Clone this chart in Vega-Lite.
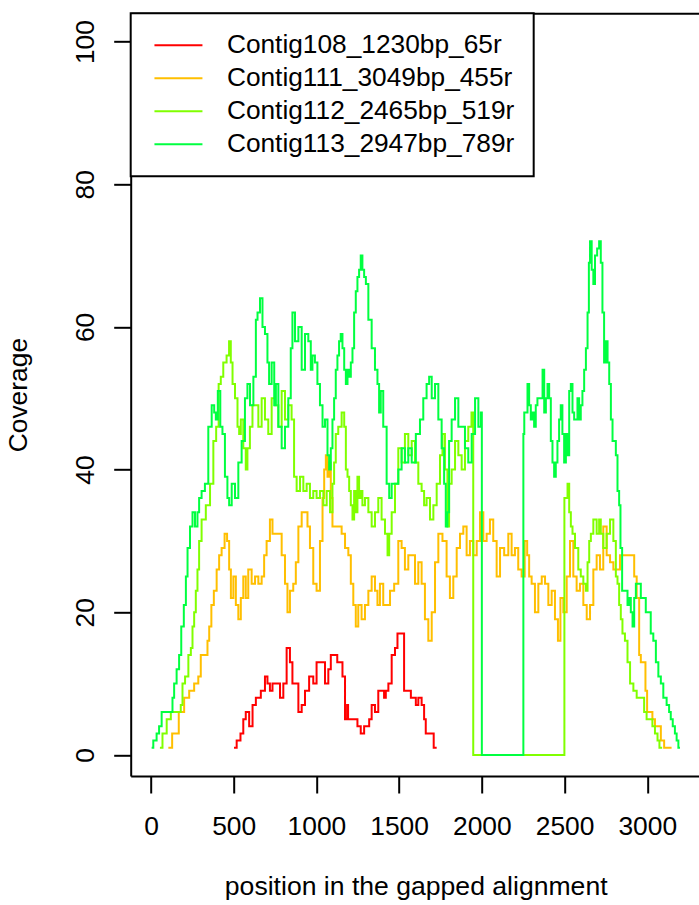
{
  "$schema": "https://vega.github.io/schema/vega-lite/v6.json",
  "width": 568,
  "height": 762.7,
  "autosize": {"type": "none"},
  "padding": {"left": 130.7, "top": 13.3, "right": 0, "bottom": 129},
  "background": "white",
  "datasets": {
    "cov": [
      {"contig":"Contig108_1230bp_65r","pos":502,"cov":1},{"contig":"Contig108_1230bp_65r","pos":534,"cov":2},{"contig":"Contig108_1230bp_65r","pos":548,"cov":3},{"contig":"Contig108_1230bp_65r","pos":568,"cov":5},{"contig":"Contig108_1230bp_65r","pos":578,"cov":6},{"contig":"Contig108_1230bp_65r","pos":609,"cov":4},{"contig":"Contig108_1230bp_65r","pos":619,"cov":7},{"contig":"Contig108_1230bp_65r","pos":649,"cov":8},{"contig":"Contig108_1230bp_65r","pos":679,"cov":9},{"contig":"Contig108_1230bp_65r","pos":699,"cov":11},{"contig":"Contig108_1230bp_65r","pos":709,"cov":10},{"contig":"Contig108_1230bp_65r","pos":729,"cov":9},{"contig":"Contig108_1230bp_65r","pos":740,"cov":10},{"contig":"Contig108_1230bp_65r","pos":770,"cov":10},{"contig":"Contig108_1230bp_65r","pos":790,"cov":8},{"contig":"Contig108_1230bp_65r","pos":810,"cov":10},{"contig":"Contig108_1230bp_65r","pos":830,"cov":15},{"contig":"Contig108_1230bp_65r","pos":850,"cov":13},{"contig":"Contig108_1230bp_65r","pos":860,"cov":10},{"contig":"Contig108_1230bp_65r","pos":881,"cov":10},{"contig":"Contig108_1230bp_65r","pos":901,"cov":6},{"contig":"Contig108_1230bp_65r","pos":921,"cov":7},{"contig":"Contig108_1230bp_65r","pos":941,"cov":9},{"contig":"Contig108_1230bp_65r","pos":971,"cov":11},{"contig":"Contig108_1230bp_65r","pos":991,"cov":10},{"contig":"Contig108_1230bp_65r","pos":1011,"cov":13},{"contig":"Contig108_1230bp_65r","pos":1042,"cov":13},{"contig":"Contig108_1230bp_65r","pos":1062,"cov":10},{"contig":"Contig108_1230bp_65r","pos":1082,"cov":12},{"contig":"Contig108_1230bp_65r","pos":1092,"cov":14},{"contig":"Contig108_1230bp_65r","pos":1122,"cov":14},{"contig":"Contig108_1230bp_65r","pos":1130,"cov":13},{"contig":"Contig108_1230bp_65r","pos":1152,"cov":13},{"contig":"Contig108_1230bp_65r","pos":1163,"cov":11},{"contig":"Contig108_1230bp_65r","pos":1183,"cov":5},{"contig":"Contig108_1230bp_65r","pos":1188,"cov":7},{"contig":"Contig108_1230bp_65r","pos":1195,"cov":5},{"contig":"Contig108_1230bp_65r","pos":1243,"cov":5},{"contig":"Contig108_1230bp_65r","pos":1253,"cov":4},{"contig":"Contig108_1230bp_65r","pos":1283,"cov":3},{"contig":"Contig108_1230bp_65r","pos":1294,"cov":4},{"contig":"Contig108_1230bp_65r","pos":1314,"cov":4},{"contig":"Contig108_1230bp_65r","pos":1324,"cov":5},{"contig":"Contig108_1230bp_65r","pos":1344,"cov":7},{"contig":"Contig108_1230bp_65r","pos":1364,"cov":6},{"contig":"Contig108_1230bp_65r","pos":1384,"cov":9},{"contig":"Contig108_1230bp_65r","pos":1404,"cov":9},{"contig":"Contig108_1230bp_65r","pos":1414,"cov":8},{"contig":"Contig108_1230bp_65r","pos":1425,"cov":9},{"contig":"Contig108_1230bp_65r","pos":1445,"cov":10},{"contig":"Contig108_1230bp_65r","pos":1465,"cov":14},{"contig":"Contig108_1230bp_65r","pos":1485,"cov":15},{"contig":"Contig108_1230bp_65r","pos":1495,"cov":17},{"contig":"Contig108_1230bp_65r","pos":1525,"cov":17},{"contig":"Contig108_1230bp_65r","pos":1535,"cov":9},{"contig":"Contig108_1230bp_65r","pos":1566,"cov":9},{"contig":"Contig108_1230bp_65r","pos":1576,"cov":8},{"contig":"Contig108_1230bp_65r","pos":1596,"cov":8},{"contig":"Contig108_1230bp_65r","pos":1606,"cov":7},{"contig":"Contig108_1230bp_65r","pos":1626,"cov":8},{"contig":"Contig108_1230bp_65r","pos":1646,"cov":7},{"contig":"Contig108_1230bp_65r","pos":1656,"cov":5},{"contig":"Contig108_1230bp_65r","pos":1666,"cov":3},{"contig":"Contig108_1230bp_65r","pos":1707,"cov":3},{"contig":"Contig108_1230bp_65r","pos":1711,"cov":1},{"contig":"Contig108_1230bp_65r","pos":1727,"cov":1},

      {"contig":"Contig111_3049bp_455r","pos":105,"cov":1},{"contig":"Contig111_3049bp_455r","pos":151,"cov":3},{"contig":"Contig111_3049bp_455r","pos":185,"cov":6},{"contig":"Contig111_3049bp_455r","pos":216,"cov":8},{"contig":"Contig111_3049bp_455r","pos":246,"cov":9},{"contig":"Contig111_3049bp_455r","pos":276,"cov":10},{"contig":"Contig111_3049bp_455r","pos":296,"cov":11},{"contig":"Contig111_3049bp_455r","pos":306,"cov":14},{"contig":"Contig111_3049bp_455r","pos":336,"cov":14},{"contig":"Contig111_3049bp_455r","pos":347,"cov":16},{"contig":"Contig111_3049bp_455r","pos":357,"cov":18},{"contig":"Contig111_3049bp_455r","pos":373,"cov":21},{"contig":"Contig111_3049bp_455r","pos":387,"cov":23},{"contig":"Contig111_3049bp_455r","pos":407,"cov":26},{"contig":"Contig111_3049bp_455r","pos":417,"cov":28},{"contig":"Contig111_3049bp_455r","pos":437,"cov":29},{"contig":"Contig111_3049bp_455r","pos":453,"cov":31},{"contig":"Contig111_3049bp_455r","pos":467,"cov":30},{"contig":"Contig111_3049bp_455r","pos":478,"cov":26},{"contig":"Contig111_3049bp_455r","pos":488,"cov":22},{"contig":"Contig111_3049bp_455r","pos":508,"cov":25},{"contig":"Contig111_3049bp_455r","pos":518,"cov":21},{"contig":"Contig111_3049bp_455r","pos":538,"cov":19},{"contig":"Contig111_3049bp_455r","pos":548,"cov":22},{"contig":"Contig111_3049bp_455r","pos":568,"cov":25},{"contig":"Contig111_3049bp_455r","pos":578,"cov":22},{"contig":"Contig111_3049bp_455r","pos":598,"cov":26},{"contig":"Contig111_3049bp_455r","pos":619,"cov":24},{"contig":"Contig111_3049bp_455r","pos":639,"cov":25},{"contig":"Contig111_3049bp_455r","pos":659,"cov":24},{"contig":"Contig111_3049bp_455r","pos":679,"cov":25},{"contig":"Contig111_3049bp_455r","pos":689,"cov":28},{"contig":"Contig111_3049bp_455r","pos":709,"cov":30},{"contig":"Contig111_3049bp_455r","pos":729,"cov":33},{"contig":"Contig111_3049bp_455r","pos":740,"cov":31},{"contig":"Contig111_3049bp_455r","pos":780,"cov":31},{"contig":"Contig111_3049bp_455r","pos":800,"cov":28},{"contig":"Contig111_3049bp_455r","pos":820,"cov":24},{"contig":"Contig111_3049bp_455r","pos":830,"cov":20},{"contig":"Contig111_3049bp_455r","pos":850,"cov":23},{"contig":"Contig111_3049bp_455r","pos":870,"cov":24},{"contig":"Contig111_3049bp_455r","pos":881,"cov":27},{"contig":"Contig111_3049bp_455r","pos":901,"cov":32},{"contig":"Contig111_3049bp_455r","pos":921,"cov":34},{"contig":"Contig111_3049bp_455r","pos":941,"cov":34},{"contig":"Contig111_3049bp_455r","pos":951,"cov":32},{"contig":"Contig111_3049bp_455r","pos":971,"cov":29},{"contig":"Contig111_3049bp_455r","pos":991,"cov":24},{"contig":"Contig111_3049bp_455r","pos":1011,"cov":23},{"contig":"Contig111_3049bp_455r","pos":1032,"cov":30},{"contig":"Contig111_3049bp_455r","pos":1042,"cov":36},{"contig":"Contig111_3049bp_455r","pos":1052,"cov":40},{"contig":"Contig111_3049bp_455r","pos":1062,"cov":42},{"contig":"Contig111_3049bp_455r","pos":1072,"cov":39},{"contig":"Contig111_3049bp_455r","pos":1082,"cov":41},{"contig":"Contig111_3049bp_455r","pos":1092,"cov":36},{"contig":"Contig111_3049bp_455r","pos":1102,"cov":32},{"contig":"Contig111_3049bp_455r","pos":1142,"cov":32},{"contig":"Contig111_3049bp_455r","pos":1163,"cov":31},{"contig":"Contig111_3049bp_455r","pos":1183,"cov":29},{"contig":"Contig111_3049bp_455r","pos":1203,"cov":28},{"contig":"Contig111_3049bp_455r","pos":1213,"cov":24},{"contig":"Contig111_3049bp_455r","pos":1233,"cov":21},{"contig":"Contig111_3049bp_455r","pos":1243,"cov":18},{"contig":"Contig111_3049bp_455r","pos":1263,"cov":21},{"contig":"Contig111_3049bp_455r","pos":1283,"cov":19},{"contig":"Contig111_3049bp_455r","pos":1304,"cov":21},{"contig":"Contig111_3049bp_455r","pos":1324,"cov":23},{"contig":"Contig111_3049bp_455r","pos":1344,"cov":25},{"contig":"Contig111_3049bp_455r","pos":1364,"cov":23},{"contig":"Contig111_3049bp_455r","pos":1374,"cov":21},{"contig":"Contig111_3049bp_455r","pos":1394,"cov":24},{"contig":"Contig111_3049bp_455r","pos":1414,"cov":21},{"contig":"Contig111_3049bp_455r","pos":1435,"cov":21},{"contig":"Contig111_3049bp_455r","pos":1455,"cov":23},{"contig":"Contig111_3049bp_455r","pos":1485,"cov":24},{"contig":"Contig111_3049bp_455r","pos":1505,"cov":30},{"contig":"Contig111_3049bp_455r","pos":1525,"cov":29},{"contig":"Contig111_3049bp_455r","pos":1545,"cov":26},{"contig":"Contig111_3049bp_455r","pos":1566,"cov":28},{"contig":"Contig111_3049bp_455r","pos":1586,"cov":28},{"contig":"Contig111_3049bp_455r","pos":1606,"cov":24},{"contig":"Contig111_3049bp_455r","pos":1626,"cov":27},{"contig":"Contig111_3049bp_455r","pos":1646,"cov":24},{"contig":"Contig111_3049bp_455r","pos":1666,"cov":19},{"contig":"Contig111_3049bp_455r","pos":1687,"cov":16},{"contig":"Contig111_3049bp_455r","pos":1707,"cov":20},{"contig":"Contig111_3049bp_455r","pos":1727,"cov":27},{"contig":"Contig111_3049bp_455r","pos":1747,"cov":31},{"contig":"Contig111_3049bp_455r","pos":1777,"cov":30},{"contig":"Contig111_3049bp_455r","pos":1797,"cov":25},{"contig":"Contig111_3049bp_455r","pos":1817,"cov":22},{"contig":"Contig111_3049bp_455r","pos":1838,"cov":25},{"contig":"Contig111_3049bp_455r","pos":1858,"cov":29},{"contig":"Contig111_3049bp_455r","pos":1878,"cov":31},{"contig":"Contig111_3049bp_455r","pos":1898,"cov":32},{"contig":"Contig111_3049bp_455r","pos":1918,"cov":28},{"contig":"Contig111_3049bp_455r","pos":1938,"cov":30},{"contig":"Contig111_3049bp_455r","pos":1959,"cov":28},{"contig":"Contig111_3049bp_455r","pos":1979,"cov":30},{"contig":"Contig111_3049bp_455r","pos":1999,"cov":34},{"contig":"Contig111_3049bp_455r","pos":2019,"cov":30},{"contig":"Contig111_3049bp_455r","pos":2039,"cov":31},{"contig":"Contig111_3049bp_455r","pos":2059,"cov":33},{"contig":"Contig111_3049bp_455r","pos":2079,"cov":30},{"contig":"Contig111_3049bp_455r","pos":2100,"cov":25},{"contig":"Contig111_3049bp_455r","pos":2120,"cov":29},{"contig":"Contig111_3049bp_455r","pos":2150,"cov":28},{"contig":"Contig111_3049bp_455r","pos":2170,"cov":31},{"contig":"Contig111_3049bp_455r","pos":2190,"cov":28},{"contig":"Contig111_3049bp_455r","pos":2210,"cov":29},{"contig":"Contig111_3049bp_455r","pos":2230,"cov":26},{"contig":"Contig111_3049bp_455r","pos":2251,"cov":25},{"contig":"Contig111_3049bp_455r","pos":2267,"cov":30},{"contig":"Contig111_3049bp_455r","pos":2281,"cov":28},{"contig":"Contig111_3049bp_455r","pos":2291,"cov":25},{"contig":"Contig111_3049bp_455r","pos":2311,"cov":24},{"contig":"Contig111_3049bp_455r","pos":2331,"cov":20},{"contig":"Contig111_3049bp_455r","pos":2352,"cov":24},{"contig":"Contig111_3049bp_455r","pos":2372,"cov":25},{"contig":"Contig111_3049bp_455r","pos":2392,"cov":24},{"contig":"Contig111_3049bp_455r","pos":2412,"cov":21},{"contig":"Contig111_3049bp_455r","pos":2432,"cov":23},{"contig":"Contig111_3049bp_455r","pos":2452,"cov":19},{"contig":"Contig111_3049bp_455r","pos":2468,"cov":16},{"contig":"Contig111_3049bp_455r","pos":2482,"cov":22},{"contig":"Contig111_3049bp_455r","pos":2503,"cov":20},{"contig":"Contig111_3049bp_455r","pos":2523,"cov":25},{"contig":"Contig111_3049bp_455r","pos":2543,"cov":30},{"contig":"Contig111_3049bp_455r","pos":2563,"cov":25},{"contig":"Contig111_3049bp_455r","pos":2583,"cov":23},{"contig":"Contig111_3049bp_455r","pos":2603,"cov":24},{"contig":"Contig111_3049bp_455r","pos":2624,"cov":21},{"contig":"Contig111_3049bp_455r","pos":2644,"cov":19},{"contig":"Contig111_3049bp_455r","pos":2664,"cov":21},{"contig":"Contig111_3049bp_455r","pos":2684,"cov":26},{"contig":"Contig111_3049bp_455r","pos":2704,"cov":28},{"contig":"Contig111_3049bp_455r","pos":2724,"cov":26},{"contig":"Contig111_3049bp_455r","pos":2744,"cov":32},{"contig":"Contig111_3049bp_455r","pos":2765,"cov":28},{"contig":"Contig111_3049bp_455r","pos":2785,"cov":27},{"contig":"Contig111_3049bp_455r","pos":2805,"cov":26},{"contig":"Contig111_3049bp_455r","pos":2825,"cov":26},{"contig":"Contig111_3049bp_455r","pos":2845,"cov":28},{"contig":"Contig111_3049bp_455r","pos":2865,"cov":28},{"contig":"Contig111_3049bp_455r","pos":2916,"cov":28},{"contig":"Contig111_3049bp_455r","pos":2926,"cov":25},{"contig":"Contig111_3049bp_455r","pos":2946,"cov":22},{"contig":"Contig111_3049bp_455r","pos":2956,"cov":14},{"contig":"Contig111_3049bp_455r","pos":2966,"cov":13},{"contig":"Contig111_3049bp_455r","pos":2986,"cov":13},{"contig":"Contig111_3049bp_455r","pos":2992,"cov":9},{"contig":"Contig111_3049bp_455r","pos":3006,"cov":6},{"contig":"Contig111_3049bp_455r","pos":3026,"cov":6},{"contig":"Contig111_3049bp_455r","pos":3036,"cov":5},{"contig":"Contig111_3049bp_455r","pos":3057,"cov":4},{"contig":"Contig111_3049bp_455r","pos":3077,"cov":4},{"contig":"Contig111_3049bp_455r","pos":3087,"cov":2},{"contig":"Contig111_3049bp_455r","pos":3117,"cov":1},{"contig":"Contig111_3049bp_455r","pos":3147,"cov":1},

      {"contig":"Contig112_2465bp_519r","pos":54,"cov":1},{"contig":"Contig112_2465bp_519r","pos":85,"cov":3},{"contig":"Contig112_2465bp_519r","pos":105,"cov":5},{"contig":"Contig112_2465bp_519r","pos":135,"cov":6},{"contig":"Contig112_2465bp_519r","pos":175,"cov":6},{"contig":"Contig112_2465bp_519r","pos":185,"cov":7},{"contig":"Contig112_2465bp_519r","pos":196,"cov":10},{"contig":"Contig112_2465bp_519r","pos":216,"cov":11},{"contig":"Contig112_2465bp_519r","pos":236,"cov":14},{"contig":"Contig112_2465bp_519r","pos":246,"cov":15},{"contig":"Contig112_2465bp_519r","pos":256,"cov":18},{"contig":"Contig112_2465bp_519r","pos":266,"cov":20},{"contig":"Contig112_2465bp_519r","pos":276,"cov":23},{"contig":"Contig112_2465bp_519r","pos":286,"cov":26},{"contig":"Contig112_2465bp_519r","pos":296,"cov":30},{"contig":"Contig112_2465bp_519r","pos":316,"cov":33},{"contig":"Contig112_2465bp_519r","pos":347,"cov":35},{"contig":"Contig112_2465bp_519r","pos":367,"cov":38},{"contig":"Contig112_2465bp_519r","pos":387,"cov":44},{"contig":"Contig112_2465bp_519r","pos":401,"cov":46},{"contig":"Contig112_2465bp_519r","pos":417,"cov":52},{"contig":"Contig112_2465bp_519r","pos":427,"cov":53},{"contig":"Contig112_2465bp_519r","pos":447,"cov":55},{"contig":"Contig112_2465bp_519r","pos":467,"cov":56},{"contig":"Contig112_2465bp_519r","pos":477,"cov":58},{"contig":"Contig112_2465bp_519r","pos":488,"cov":55},{"contig":"Contig112_2465bp_519r","pos":498,"cov":52},{"contig":"Contig112_2465bp_519r","pos":518,"cov":50},{"contig":"Contig112_2465bp_519r","pos":528,"cov":46},{"contig":"Contig112_2465bp_519r","pos":538,"cov":45},{"contig":"Contig112_2465bp_519r","pos":548,"cov":47},{"contig":"Contig112_2465bp_519r","pos":568,"cov":43},{"contig":"Contig112_2465bp_519r","pos":578,"cov":40},{"contig":"Contig112_2465bp_519r","pos":588,"cov":43},{"contig":"Contig112_2465bp_519r","pos":608,"cov":46},{"contig":"Contig112_2465bp_519r","pos":619,"cov":49},{"contig":"Contig112_2465bp_519r","pos":639,"cov":49},{"contig":"Contig112_2465bp_519r","pos":659,"cov":46},{"contig":"Contig112_2465bp_519r","pos":679,"cov":50},{"contig":"Contig112_2465bp_519r","pos":699,"cov":47},{"contig":"Contig112_2465bp_519r","pos":719,"cov":45},{"contig":"Contig112_2465bp_519r","pos":740,"cov":50},{"contig":"Contig112_2465bp_519r","pos":760,"cov":49},{"contig":"Contig112_2465bp_519r","pos":780,"cov":46},{"contig":"Contig112_2465bp_519r","pos":800,"cov":51},{"contig":"Contig112_2465bp_519r","pos":820,"cov":47},{"contig":"Contig112_2465bp_519r","pos":840,"cov":49},{"contig":"Contig112_2465bp_519r","pos":860,"cov":47},{"contig":"Contig112_2465bp_519r","pos":870,"cov":39},{"contig":"Contig112_2465bp_519r","pos":891,"cov":37},{"contig":"Contig112_2465bp_519r","pos":911,"cov":39},{"contig":"Contig112_2465bp_519r","pos":931,"cov":37},{"contig":"Contig112_2465bp_519r","pos":951,"cov":38},{"contig":"Contig112_2465bp_519r","pos":971,"cov":36},{"contig":"Contig112_2465bp_519r","pos":991,"cov":37},{"contig":"Contig112_2465bp_519r","pos":1011,"cov":36},{"contig":"Contig112_2465bp_519r","pos":1032,"cov":37},{"contig":"Contig112_2465bp_519r","pos":1052,"cov":35},{"contig":"Contig112_2465bp_519r","pos":1072,"cov":37},{"contig":"Contig112_2465bp_519r","pos":1092,"cov":34},{"contig":"Contig112_2465bp_519r","pos":1102,"cov":38},{"contig":"Contig112_2465bp_519r","pos":1112,"cov":41},{"contig":"Contig112_2465bp_519r","pos":1122,"cov":45},{"contig":"Contig112_2465bp_519r","pos":1142,"cov":46},{"contig":"Contig112_2465bp_519r","pos":1163,"cov":48},{"contig":"Contig112_2465bp_519r","pos":1173,"cov":46},{"contig":"Contig112_2465bp_519r","pos":1183,"cov":40},{"contig":"Contig112_2465bp_519r","pos":1193,"cov":39},{"contig":"Contig112_2465bp_519r","pos":1203,"cov":37},{"contig":"Contig112_2465bp_519r","pos":1213,"cov":35},{"contig":"Contig112_2465bp_519r","pos":1223,"cov":33},{"contig":"Contig112_2465bp_519r","pos":1233,"cov":37},{"contig":"Contig112_2465bp_519r","pos":1243,"cov":34},{"contig":"Contig112_2465bp_519r","pos":1253,"cov":39},{"contig":"Contig112_2465bp_519r","pos":1263,"cov":36},{"contig":"Contig112_2465bp_519r","pos":1273,"cov":37},{"contig":"Contig112_2465bp_519r","pos":1283,"cov":35},{"contig":"Contig112_2465bp_519r","pos":1304,"cov":36},{"contig":"Contig112_2465bp_519r","pos":1324,"cov":34},{"contig":"Contig112_2465bp_519r","pos":1344,"cov":32},{"contig":"Contig112_2465bp_519r","pos":1364,"cov":34},{"contig":"Contig112_2465bp_519r","pos":1384,"cov":36},{"contig":"Contig112_2465bp_519r","pos":1404,"cov":33},{"contig":"Contig112_2465bp_519r","pos":1425,"cov":31},{"contig":"Contig112_2465bp_519r","pos":1435,"cov":28},{"contig":"Contig112_2465bp_519r","pos":1445,"cov":31},{"contig":"Contig112_2465bp_519r","pos":1465,"cov":34},{"contig":"Contig112_2465bp_519r","pos":1485,"cov":38},{"contig":"Contig112_2465bp_519r","pos":1505,"cov":43},{"contig":"Contig112_2465bp_519r","pos":1525,"cov":41},{"contig":"Contig112_2465bp_519r","pos":1545,"cov":45},{"contig":"Contig112_2465bp_519r","pos":1566,"cov":42},{"contig":"Contig112_2465bp_519r","pos":1586,"cov":44},{"contig":"Contig112_2465bp_519r","pos":1606,"cov":41},{"contig":"Contig112_2465bp_519r","pos":1626,"cov":38},{"contig":"Contig112_2465bp_519r","pos":1646,"cov":37},{"contig":"Contig112_2465bp_519r","pos":1656,"cov":35},{"contig":"Contig112_2465bp_519r","pos":1676,"cov":36},{"contig":"Contig112_2465bp_519r","pos":1697,"cov":33},{"contig":"Contig112_2465bp_519r","pos":1717,"cov":35},{"contig":"Contig112_2465bp_519r","pos":1737,"cov":38},{"contig":"Contig112_2465bp_519r","pos":1757,"cov":42},{"contig":"Contig112_2465bp_519r","pos":1767,"cov":45},{"contig":"Contig112_2465bp_519r","pos":1787,"cov":40},{"contig":"Contig112_2465bp_519r","pos":1797,"cov":32},{"contig":"Contig112_2465bp_519r","pos":1807,"cov":38},{"contig":"Contig112_2465bp_519r","pos":1828,"cov":40},{"contig":"Contig112_2465bp_519r","pos":1848,"cov":44},{"contig":"Contig112_2465bp_519r","pos":1868,"cov":42},{"contig":"Contig112_2465bp_519r","pos":1888,"cov":40},{"contig":"Contig112_2465bp_519r","pos":1908,"cov":44},{"contig":"Contig112_2465bp_519r","pos":1928,"cov":46},{"contig":"Contig112_2465bp_519r","pos":1947,"cov":48},{"contig":"Contig112_2465bp_519r","pos":1949,"cov":0},{"contig":"Contig112_2465bp_519r","pos":2498,"cov":0},{"contig":"Contig112_2465bp_519r","pos":2500,"cov":36},{"contig":"Contig112_2465bp_519r","pos":2513,"cov":36},{"contig":"Contig112_2465bp_519r","pos":2523,"cov":38},{"contig":"Contig112_2465bp_519r","pos":2533,"cov":34},{"contig":"Contig112_2465bp_519r","pos":2543,"cov":32},{"contig":"Contig112_2465bp_519r","pos":2553,"cov":31},{"contig":"Contig112_2465bp_519r","pos":2573,"cov":29},{"contig":"Contig112_2465bp_519r","pos":2593,"cov":26},{"contig":"Contig112_2465bp_519r","pos":2603,"cov":25},{"contig":"Contig112_2465bp_519r","pos":2624,"cov":24},{"contig":"Contig112_2465bp_519r","pos":2634,"cov":23},{"contig":"Contig112_2465bp_519r","pos":2644,"cov":27},{"contig":"Contig112_2465bp_519r","pos":2654,"cov":30},{"contig":"Contig112_2465bp_519r","pos":2664,"cov":31},{"contig":"Contig112_2465bp_519r","pos":2684,"cov":33},{"contig":"Contig112_2465bp_519r","pos":2704,"cov":31},{"contig":"Contig112_2465bp_519r","pos":2714,"cov":33},{"contig":"Contig112_2465bp_519r","pos":2724,"cov":31},{"contig":"Contig112_2465bp_519r","pos":2744,"cov":29},{"contig":"Contig112_2465bp_519r","pos":2765,"cov":31},{"contig":"Contig112_2465bp_519r","pos":2785,"cov":33},{"contig":"Contig112_2465bp_519r","pos":2805,"cov":30},{"contig":"Contig112_2465bp_519r","pos":2815,"cov":25},{"contig":"Contig112_2465bp_519r","pos":2825,"cov":24},{"contig":"Contig112_2465bp_519r","pos":2835,"cov":21},{"contig":"Contig112_2465bp_519r","pos":2845,"cov":19},{"contig":"Contig112_2465bp_519r","pos":2855,"cov":17},{"contig":"Contig112_2465bp_519r","pos":2875,"cov":16},{"contig":"Contig112_2465bp_519r","pos":2886,"cov":13},{"contig":"Contig112_2465bp_519r","pos":2906,"cov":10},{"contig":"Contig112_2465bp_519r","pos":2926,"cov":9},{"contig":"Contig112_2465bp_519r","pos":2946,"cov":8},{"contig":"Contig112_2465bp_519r","pos":2976,"cov":8},{"contig":"Contig112_2465bp_519r","pos":2986,"cov":6},{"contig":"Contig112_2465bp_519r","pos":3006,"cov":5},{"contig":"Contig112_2465bp_519r","pos":3026,"cov":5},{"contig":"Contig112_2465bp_519r","pos":3036,"cov":4},{"contig":"Contig112_2465bp_519r","pos":3057,"cov":3},{"contig":"Contig112_2465bp_519r","pos":3067,"cov":2},{"contig":"Contig112_2465bp_519r","pos":3080,"cov":1},{"contig":"Contig112_2465bp_519r","pos":3090,"cov":1},

      {"contig":"Contig113_2947bp_789r","pos":4,"cov":1},{"contig":"Contig113_2947bp_789r","pos":24,"cov":2},{"contig":"Contig113_2947bp_789r","pos":44,"cov":3},{"contig":"Contig113_2947bp_789r","pos":54,"cov":4},{"contig":"Contig113_2947bp_789r","pos":75,"cov":6},{"contig":"Contig113_2947bp_789r","pos":125,"cov":6},{"contig":"Contig113_2947bp_789r","pos":135,"cov":8},{"contig":"Contig113_2947bp_789r","pos":145,"cov":10},{"contig":"Contig113_2947bp_789r","pos":165,"cov":12},{"contig":"Contig113_2947bp_789r","pos":175,"cov":14},{"contig":"Contig113_2947bp_789r","pos":191,"cov":18},{"contig":"Contig113_2947bp_789r","pos":206,"cov":21},{"contig":"Contig113_2947bp_789r","pos":216,"cov":25},{"contig":"Contig113_2947bp_789r","pos":226,"cov":29},{"contig":"Contig113_2947bp_789r","pos":246,"cov":32},{"contig":"Contig113_2947bp_789r","pos":256,"cov":34},{"contig":"Contig113_2947bp_789r","pos":276,"cov":32},{"contig":"Contig113_2947bp_789r","pos":286,"cov":34},{"contig":"Contig113_2947bp_789r","pos":296,"cov":36},{"contig":"Contig113_2947bp_789r","pos":316,"cov":37},{"contig":"Contig113_2947bp_789r","pos":336,"cov":38},{"contig":"Contig113_2947bp_789r","pos":357,"cov":46},{"contig":"Contig113_2947bp_789r","pos":377,"cov":49},{"contig":"Contig113_2947bp_789r","pos":387,"cov":48},{"contig":"Contig113_2947bp_789r","pos":397,"cov":47},{"contig":"Contig113_2947bp_789r","pos":411,"cov":51},{"contig":"Contig113_2947bp_789r","pos":427,"cov":46},{"contig":"Contig113_2947bp_789r","pos":437,"cov":45},{"contig":"Contig113_2947bp_789r","pos":457,"cov":39},{"contig":"Contig113_2947bp_789r","pos":467,"cov":36},{"contig":"Contig113_2947bp_789r","pos":478,"cov":35},{"contig":"Contig113_2947bp_789r","pos":498,"cov":38},{"contig":"Contig113_2947bp_789r","pos":518,"cov":36},{"contig":"Contig113_2947bp_789r","pos":538,"cov":41},{"contig":"Contig113_2947bp_789r","pos":558,"cov":44},{"contig":"Contig113_2947bp_789r","pos":578,"cov":50},{"contig":"Contig113_2947bp_789r","pos":588,"cov":52},{"contig":"Contig113_2947bp_789r","pos":609,"cov":49},{"contig":"Contig113_2947bp_789r","pos":629,"cov":53},{"contig":"Contig113_2947bp_789r","pos":639,"cov":61},{"contig":"Contig113_2947bp_789r","pos":649,"cov":62},{"contig":"Contig113_2947bp_789r","pos":669,"cov":64},{"contig":"Contig113_2947bp_789r","pos":679,"cov":60},{"contig":"Contig113_2947bp_789r","pos":699,"cov":59},{"contig":"Contig113_2947bp_789r","pos":709,"cov":55},{"contig":"Contig113_2947bp_789r","pos":719,"cov":52},{"contig":"Contig113_2947bp_789r","pos":740,"cov":55},{"contig":"Contig113_2947bp_789r","pos":750,"cov":49},{"contig":"Contig113_2947bp_789r","pos":760,"cov":52},{"contig":"Contig113_2947bp_789r","pos":780,"cov":46},{"contig":"Contig113_2947bp_789r","pos":800,"cov":43},{"contig":"Contig113_2947bp_789r","pos":820,"cov":46},{"contig":"Contig113_2947bp_789r","pos":840,"cov":50},{"contig":"Contig113_2947bp_789r","pos":850,"cov":57},{"contig":"Contig113_2947bp_789r","pos":860,"cov":62},{"contig":"Contig113_2947bp_789r","pos":881,"cov":58},{"contig":"Contig113_2947bp_789r","pos":901,"cov":60},{"contig":"Contig113_2947bp_789r","pos":921,"cov":54},{"contig":"Contig113_2947bp_789r","pos":941,"cov":59},{"contig":"Contig113_2947bp_789r","pos":961,"cov":58},{"contig":"Contig113_2947bp_789r","pos":971,"cov":54},{"contig":"Contig113_2947bp_789r","pos":981,"cov":56},{"contig":"Contig113_2947bp_789r","pos":1001,"cov":55},{"contig":"Contig113_2947bp_789r","pos":1011,"cov":52},{"contig":"Contig113_2947bp_789r","pos":1032,"cov":49},{"contig":"Contig113_2947bp_789r","pos":1042,"cov":46},{"contig":"Contig113_2947bp_789r","pos":1062,"cov":47},{"contig":"Contig113_2947bp_789r","pos":1072,"cov":42},{"contig":"Contig113_2947bp_789r","pos":1082,"cov":40},{"contig":"Contig113_2947bp_789r","pos":1092,"cov":43},{"contig":"Contig113_2947bp_789r","pos":1102,"cov":47},{"contig":"Contig113_2947bp_789r","pos":1112,"cov":50},{"contig":"Contig113_2947bp_789r","pos":1122,"cov":54},{"contig":"Contig113_2947bp_789r","pos":1132,"cov":56},{"contig":"Contig113_2947bp_789r","pos":1142,"cov":58},{"contig":"Contig113_2947bp_789r","pos":1152,"cov":59},{"contig":"Contig113_2947bp_789r","pos":1163,"cov":57},{"contig":"Contig113_2947bp_789r","pos":1173,"cov":54},{"contig":"Contig113_2947bp_789r","pos":1183,"cov":52},{"contig":"Contig113_2947bp_789r","pos":1193,"cov":54},{"contig":"Contig113_2947bp_789r","pos":1203,"cov":53},{"contig":"Contig113_2947bp_789r","pos":1213,"cov":55},{"contig":"Contig113_2947bp_789r","pos":1223,"cov":57},{"contig":"Contig113_2947bp_789r","pos":1233,"cov":62},{"contig":"Contig113_2947bp_789r","pos":1243,"cov":65},{"contig":"Contig113_2947bp_789r","pos":1253,"cov":67},{"contig":"Contig113_2947bp_789r","pos":1263,"cov":68},{"contig":"Contig113_2947bp_789r","pos":1273,"cov":70},{"contig":"Contig113_2947bp_789r","pos":1283,"cov":68},{"contig":"Contig113_2947bp_789r","pos":1294,"cov":67},{"contig":"Contig113_2947bp_789r","pos":1304,"cov":66},{"contig":"Contig113_2947bp_789r","pos":1324,"cov":61},{"contig":"Contig113_2947bp_789r","pos":1344,"cov":57},{"contig":"Contig113_2947bp_789r","pos":1364,"cov":54},{"contig":"Contig113_2947bp_789r","pos":1374,"cov":52},{"contig":"Contig113_2947bp_789r","pos":1384,"cov":48},{"contig":"Contig113_2947bp_789r","pos":1394,"cov":51},{"contig":"Contig113_2947bp_789r","pos":1414,"cov":46},{"contig":"Contig113_2947bp_789r","pos":1435,"cov":38},{"contig":"Contig113_2947bp_789r","pos":1445,"cov":36},{"contig":"Contig113_2947bp_789r","pos":1465,"cov":38},{"contig":"Contig113_2947bp_789r","pos":1485,"cov":38},{"contig":"Contig113_2947bp_789r","pos":1505,"cov":40},{"contig":"Contig113_2947bp_789r","pos":1525,"cov":43},{"contig":"Contig113_2947bp_789r","pos":1545,"cov":41},{"contig":"Contig113_2947bp_789r","pos":1566,"cov":43},{"contig":"Contig113_2947bp_789r","pos":1586,"cov":41},{"contig":"Contig113_2947bp_789r","pos":1616,"cov":45},{"contig":"Contig113_2947bp_789r","pos":1636,"cov":47},{"contig":"Contig113_2947bp_789r","pos":1656,"cov":50},{"contig":"Contig113_2947bp_789r","pos":1676,"cov":52},{"contig":"Contig113_2947bp_789r","pos":1687,"cov":53},{"contig":"Contig113_2947bp_789r","pos":1707,"cov":50},{"contig":"Contig113_2947bp_789r","pos":1727,"cov":52},{"contig":"Contig113_2947bp_789r","pos":1747,"cov":47},{"contig":"Contig113_2947bp_789r","pos":1767,"cov":43},{"contig":"Contig113_2947bp_789r","pos":1777,"cov":38},{"contig":"Contig113_2947bp_789r","pos":1787,"cov":32},{"contig":"Contig113_2947bp_789r","pos":1797,"cov":34},{"contig":"Contig113_2947bp_789r","pos":1807,"cov":44},{"contig":"Contig113_2947bp_789r","pos":1828,"cov":47},{"contig":"Contig113_2947bp_789r","pos":1848,"cov":50},{"contig":"Contig113_2947bp_789r","pos":1868,"cov":46},{"contig":"Contig113_2947bp_789r","pos":1888,"cov":46},{"contig":"Contig113_2947bp_789r","pos":1908,"cov":43},{"contig":"Contig113_2947bp_789r","pos":1928,"cov":41},{"contig":"Contig113_2947bp_789r","pos":1949,"cov":45},{"contig":"Contig113_2947bp_789r","pos":1969,"cov":50},{"contig":"Contig113_2947bp_789r","pos":1989,"cov":46},{"contig":"Contig113_2947bp_789r","pos":1999,"cov":48},{"contig":"Contig113_2947bp_789r","pos":2001,"cov":0},{"contig":"Contig113_2947bp_789r","pos":2250,"cov":0},{"contig":"Contig113_2947bp_789r","pos":2252,"cov":45},{"contig":"Contig113_2947bp_789r","pos":2261,"cov":48},{"contig":"Contig113_2947bp_789r","pos":2271,"cov":48},{"contig":"Contig113_2947bp_789r","pos":2281,"cov":52},{"contig":"Contig113_2947bp_789r","pos":2291,"cov":49},{"contig":"Contig113_2947bp_789r","pos":2301,"cov":47},{"contig":"Contig113_2947bp_789r","pos":2311,"cov":48},{"contig":"Contig113_2947bp_789r","pos":2321,"cov":46},{"contig":"Contig113_2947bp_789r","pos":2331,"cov":49},{"contig":"Contig113_2947bp_789r","pos":2341,"cov":50},{"contig":"Contig113_2947bp_789r","pos":2362,"cov":50},{"contig":"Contig113_2947bp_789r","pos":2372,"cov":54},{"contig":"Contig113_2947bp_789r","pos":2382,"cov":48},{"contig":"Contig113_2947bp_789r","pos":2392,"cov":50},{"contig":"Contig113_2947bp_789r","pos":2402,"cov":52},{"contig":"Contig113_2947bp_789r","pos":2412,"cov":50},{"contig":"Contig113_2947bp_789r","pos":2422,"cov":44},{"contig":"Contig113_2947bp_789r","pos":2432,"cov":41},{"contig":"Contig113_2947bp_789r","pos":2442,"cov":39},{"contig":"Contig113_2947bp_789r","pos":2452,"cov":41},{"contig":"Contig113_2947bp_789r","pos":2462,"cov":44},{"contig":"Contig113_2947bp_789r","pos":2472,"cov":47},{"contig":"Contig113_2947bp_789r","pos":2482,"cov":49},{"contig":"Contig113_2947bp_789r","pos":2492,"cov":45},{"contig":"Contig113_2947bp_789r","pos":2503,"cov":41},{"contig":"Contig113_2947bp_789r","pos":2513,"cov":45},{"contig":"Contig113_2947bp_789r","pos":2523,"cov":42},{"contig":"Contig113_2947bp_789r","pos":2533,"cov":51},{"contig":"Contig113_2947bp_789r","pos":2543,"cov":52},{"contig":"Contig113_2947bp_789r","pos":2553,"cov":48},{"contig":"Contig113_2947bp_789r","pos":2563,"cov":47},{"contig":"Contig113_2947bp_789r","pos":2573,"cov":47},{"contig":"Contig113_2947bp_789r","pos":2583,"cov":50},{"contig":"Contig113_2947bp_789r","pos":2593,"cov":47},{"contig":"Contig113_2947bp_789r","pos":2603,"cov":49},{"contig":"Contig113_2947bp_789r","pos":2613,"cov":51},{"contig":"Contig113_2947bp_789r","pos":2624,"cov":54},{"contig":"Contig113_2947bp_789r","pos":2634,"cov":57},{"contig":"Contig113_2947bp_789r","pos":2644,"cov":62},{"contig":"Contig113_2947bp_789r","pos":2650,"cov":69},{"contig":"Contig113_2947bp_789r","pos":2658,"cov":72},{"contig":"Contig113_2947bp_789r","pos":2670,"cov":68},{"contig":"Contig113_2947bp_789r","pos":2678,"cov":66},{"contig":"Contig113_2947bp_789r","pos":2690,"cov":70},{"contig":"Contig113_2947bp_789r","pos":2704,"cov":71},{"contig":"Contig113_2947bp_789r","pos":2714,"cov":72},{"contig":"Contig113_2947bp_789r","pos":2724,"cov":69},{"contig":"Contig113_2947bp_789r","pos":2734,"cov":62},{"contig":"Contig113_2947bp_789r","pos":2744,"cov":55},{"contig":"Contig113_2947bp_789r","pos":2755,"cov":58},{"contig":"Contig113_2947bp_789r","pos":2765,"cov":55},{"contig":"Contig113_2947bp_789r","pos":2775,"cov":52},{"contig":"Contig113_2947bp_789r","pos":2785,"cov":47},{"contig":"Contig113_2947bp_789r","pos":2795,"cov":44},{"contig":"Contig113_2947bp_789r","pos":2805,"cov":44},{"contig":"Contig113_2947bp_789r","pos":2815,"cov":42},{"contig":"Contig113_2947bp_789r","pos":2825,"cov":37},{"contig":"Contig113_2947bp_789r","pos":2835,"cov":35},{"contig":"Contig113_2947bp_789r","pos":2841,"cov":29},{"contig":"Contig113_2947bp_789r","pos":2855,"cov":23},{"contig":"Contig113_2947bp_789r","pos":2875,"cov":23},{"contig":"Contig113_2947bp_789r","pos":2886,"cov":21},{"contig":"Contig113_2947bp_789r","pos":2895,"cov":22},{"contig":"Contig113_2947bp_789r","pos":2906,"cov":20},{"contig":"Contig113_2947bp_789r","pos":2916,"cov":18},{"contig":"Contig113_2947bp_789r","pos":2926,"cov":22},{"contig":"Contig113_2947bp_789r","pos":2936,"cov":24},{"contig":"Contig113_2947bp_789r","pos":2956,"cov":24},{"contig":"Contig113_2947bp_789r","pos":2966,"cov":22},{"contig":"Contig113_2947bp_789r","pos":2986,"cov":22},{"contig":"Contig113_2947bp_789r","pos":2996,"cov":20},{"contig":"Contig113_2947bp_789r","pos":3016,"cov":20},{"contig":"Contig113_2947bp_789r","pos":3026,"cov":17},{"contig":"Contig113_2947bp_789r","pos":3047,"cov":16},{"contig":"Contig113_2947bp_789r","pos":3057,"cov":13},{"contig":"Contig113_2947bp_789r","pos":3077,"cov":11},{"contig":"Contig113_2947bp_789r","pos":3087,"cov":10},{"contig":"Contig113_2947bp_789r","pos":3107,"cov":8},{"contig":"Contig113_2947bp_789r","pos":3127,"cov":7},{"contig":"Contig113_2947bp_789r","pos":3137,"cov":6},{"contig":"Contig113_2947bp_789r","pos":3147,"cov":5},{"contig":"Contig113_2947bp_789r","pos":3161,"cov":4},{"contig":"Contig113_2947bp_789r","pos":3173,"cov":3},{"contig":"Contig113_2947bp_789r","pos":3182,"cov":2},{"contig":"Contig113_2947bp_789r","pos":3194,"cov":1},{"contig":"Contig113_2947bp_789r","pos":3198,"cov":1}
    ]
  },
  "data": {"name": "cov"},
  "layer": [
    {
      "mark": {"type": "line", "interpolate": "step", "strokeWidth": 2, "clip": true},
      "encoding": {
        "x": {
          "field": "pos", "type": "quantitative",
          "scale": {"domain": [-122.6, 3310.8], "nice": false, "zero": false},
          "axis": {
            "orient": "bottom",
            "values": [0, 500, 1000, 1500, 2000, 2500, 3000],
            "format": "d",
            "grid": false,
            "domain": true, "domainColor": "black", "domainWidth": 2,
            "ticks": true, "tickSize": 17, "tickColor": "black", "tickWidth": 2,
            "labelFont": "Liberation Sans", "labelFontSize": 26.4, "labelColor": "black",
            "labelBaseline": "alphabetic", "labelAlign": "center", "labelPadding": 42,
            "labelFlush": false, "labelOverlap": false, "labelBound": false,
            "title": "position in the gapped alignment",
            "titleFont": "Liberation Sans", "titleFontSize": 26.6, "titleFontWeight": "normal", "titleColor": "black",
            "titleX": 285, "titleY": 118.5, "titleAlign": "center", "titleBaseline": "alphabetic"
          }
        },
        "y": {
          "field": "cov", "type": "quantitative",
          "scale": {"domain": [-2.96, 103.96], "nice": false, "zero": false},
          "axis": {
            "values": [0, 20, 40, 60, 80, 100],
            "grid": false,
            "domain": true, "domainColor": "black", "domainWidth": 2,
            "ticks": true, "tickSize": 17, "tickColor": "black", "tickWidth": 2,
            "labelFont": "Liberation Sans", "labelFontSize": 26.4, "labelColor": "black",
            "labelAngle": -90, "labelAlign": "center", "labelBaseline": "alphabetic", "labelPadding": 19.7,
            "labelFlush": false, "labelOverlap": false, "labelBound": false,
            "title": "Coverage",
            "titleFont": "Liberation Sans", "titleFontSize": 26.4, "titleFontWeight": "normal", "titleColor": "black",
            "titleAngle": -90, "titleX": -103.7, "titleY": 381.3, "titleAlign": "center", "titleBaseline": "alphabetic"
          }
        },
        "color": {
          "field": "contig", "type": "nominal",
          "scale": {
            "domain": ["Contig108_1230bp_65r", "Contig111_3049bp_455r", "Contig112_2465bp_519r", "Contig113_2947bp_789r"],
            "range": ["#FF0000", "#FFBF00", "#80FF00", "#00FF40"]
          },
          "legend": {
            "orient": "none", "legendX": 0, "legendY": 0,
            "title": null,
            "symbolType": "M-2,0H2", "symbolSize": 576, "symbolStrokeWidth": 2,
            "symbolOffset": 15.9, "labelOffset": 35.3,
            "labelLimit": 500, "labelFont": "Liberation Sans", "labelFontSize": 26.3, "labelColor": "black",
            "padding": 18.7, "rowPadding": 6,
            "strokeColor": "black", "fillColor": "white",
            "encode": {"legend": {"update": {"strokeWidth": {"value": 2}}}}
          }
        }
      }
    },
    {
      "mark": {"type": "line", "opacity": 0},
      "encoding": {
        "x": {
          "field": "pos", "type": "quantitative",
          "axis": {"orient": "top", "labels": false, "ticks": false, "grid": false, "domain": true, "domainColor": "black", "domainWidth": 2, "title": null}
        },
        "y": {"field": "cov", "type": "quantitative"},
        "detail": {"field": "contig"}
      }
    }
  ],
  "resolve": {"axis": {"x": "independent"}},
  "config": {"view": {"stroke": null}}
}
